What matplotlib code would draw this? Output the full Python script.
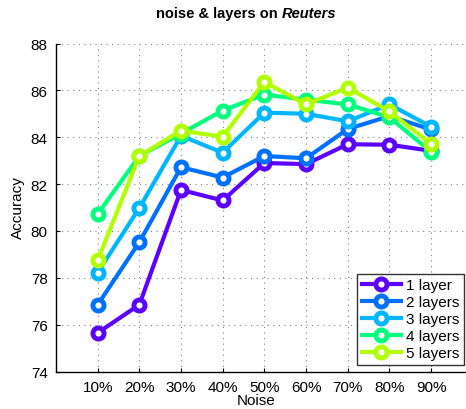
import matplotlib
matplotlib.use("Agg")
from matplotlib import pyplot as plt

noise_labels = ["10%", "20%", "30%", "40%", "50%", "60%", "70%", "80%", "90%"]
layer_names = ["1 layer", "2 layers", "3 layers", "4 layers", "5 layers"]

acc_1 = [75.65, 76.85, 81.75, 81.3, 82.9, 82.85, 83.7, 83.68, 83.42]
acc_2 = [76.85, 79.52, 82.72, 82.28, 83.2, 83.1, 84.35, 84.9, 84.33]
acc_3 = [78.22, 80.98, 84.06, 83.34, 85.05, 85.0, 84.68, 85.4, 84.45]
acc_4 = [80.72, 83.2, 84.15, 85.14, 85.82, 85.6, 85.4, 84.85, 83.38]
acc_5 = [78.74, 83.2, 84.28, 84.02, 86.36, 85.4, 86.12, 85.1, 83.72]

colors = ["#5c00ff", "#0070ff", "#00b6ff", "#00ff7c", "#b2ff00"]

plt.rcParams["font.family"] = ["Liberation Sans", "DejaVu Sans"]

fig = plt.figure(figsize=(4.66, 4.10), dpi=100)
W, H = 466, 410
left, right, top, bottom = 56, 472.7, 44.5, 372.5
ax = fig.add_axes([left / W, 1 - bottom / H, (right - left) / W, (bottom - top) / H])

x = list(range(1, len(noise_labels) + 1))
for name, ys, c in zip(layer_names, [acc_1, acc_2, acc_3, acc_4, acc_5], colors):
    ax.plot(x, ys, color=c, lw=3, marker="o", markersize=8,
            markerfacecolor="white", markeredgecolor=c, markeredgewidth=3.5,
            label=name, clip_on=False)

ax.set_xlim(0, 10)
ax.set_ylim(74, 88)
ax.set_xticks(x)
ax.set_xticklabels(noise_labels)
ax.set_yticks(range(74, 89, 2))
ax.tick_params(labelsize=11, direction="in", length=3, width=0.8, pad=6)
ax.grid(True, linestyle=(0, (1, 4)), color="#808080", linewidth=0.8)
ax.spines["top"].set_visible(False)
ax.spines["right"].set_visible(False)
ax.spines["left"].set_linewidth(1)
ax.spines["bottom"].set_linewidth(1)

fig.text(18 / W, 1 - 208 / H, "Accuracy", rotation=90, ha="center", va="center", fontsize=11)
fig.text(256 / W, 1 - 401 / H, "Noise", ha="center", va="center", fontsize=11)

# title: bold part + bold italic part, centred as a whole
t1 = fig.text(0, 1 - 14 / H, "noise & layers on ", ha="left", va="center",
              fontsize=10.5, fontweight="bold")
t2 = fig.text(0, 1 - 14 / H, "Reuters", ha="left", va="center",
              fontsize=10.5, fontweight="bold", fontstyle="italic")
fig.canvas.draw()
r = fig.canvas.get_renderer()
w1 = t1.get_window_extent(r).width
w2 = t2.get_window_extent(r).width
x0 = 246 - (w1 + w2) / 2
t1.set_x(x0 / W)
t2.set_x((x0 + w1) / W)

leg = ax.legend(loc="lower left", bbox_to_anchor=((357 - left) / (right - left), (bottom - 366) / (bottom - top)),
                fontsize=11, frameon=True, fancybox=False, borderaxespad=0,
                handlelength=2.6, handletextpad=0.3, labelspacing=0.2, borderpad=0.3)
leg.get_frame().set_edgecolor("black")
leg.get_frame().set_linewidth(1)

fig.savefig("out.png", dpi=100)
